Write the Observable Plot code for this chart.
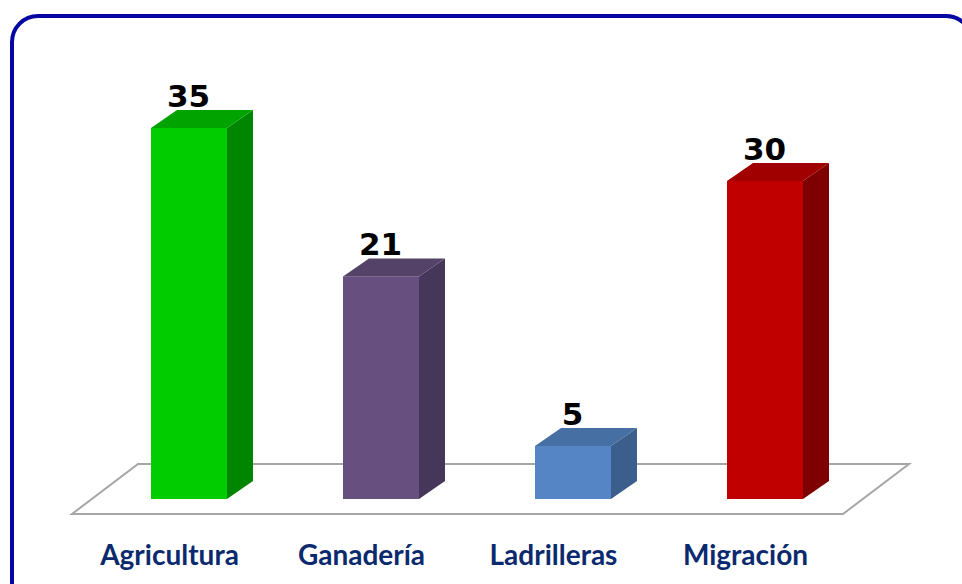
<!DOCTYPE html>
<html>
<head>
<meta charset="utf-8">
<script src="https://cdn.jsdelivr.net/npm/d3@7"></script>
<script src="https://cdn.jsdelivr.net/npm/@observablehq/plot@0.6"></script>
<style>
  html, body { margin: 0; padding: 0; background: #fff; }
  #wrap { position: relative; width: 962px; height: 584px; overflow: hidden; background: #fff; }
  #frame { position: absolute; left: 10px; top: 14px; width: 956px; height: 620px;
           border: 4px solid #0606a2; border-radius: 28px; box-sizing: content-box; }
  #chart { position: absolute; left: 0; top: 0; }
</style>
</head>
<body>
<div id="wrap"><div id="frame"></div><div id="chart"></div></div>
<script>
const categories = ["Agricultura", "Ganadería", "Ladrilleras", "Migración"];
const values = [35, 21, 5, 30];
const frontColors = ["#00cc00", "#67507f", "#5585c5", "#c00000"];
const sideColors = ["#008500", "#45365a", "#3b5e8c", "#7e0000"];
const topColors = ["#00a300", "#554269", "#466fa3", "#a00000"];

const data = categories.map((c, i) => ({category: c, value: values[i], front: frontColors[i]}));

const DX = 26, DY = 18;

function floor(index, {x, y}) {
  const [r0, r1] = x.range();
  const y0 = y(0);
  const fy = y0 + 15, by = y0 - 35;
  const g = d3.create("svg:g");
  g.append("path")
    .attr("d", `M${r0 + 39},${fy}L${r1 - 78},${fy}L${r1 - 12},${by}L${r0 + 105},${by}Z`)
    .attr("fill", "#fff").attr("stroke", "#a6a6a6").attr("stroke-width", 2);
  return g.node();
}

function cubes(index, {x, y}) {
  const g = d3.create("svg:g");
  const bw = x.bandwidth ? x.bandwidth() : 76;
  const y0 = y(0);
  data.forEach((d, i) => {
    const x0 = x(d.category), x1 = x0 + bw, yt = y(d.value);
    g.append("path")
      .attr("d", `M${x1},${yt}L${x1 + DX},${yt - DY}L${x1 + DX},${y0 - DY}L${x1},${y0}Z`)
      .attr("fill", sideColors[i]);
    g.append("path")
      .attr("d", `M${x0},${yt}L${x0 + DX},${yt - DY}L${x1 + DX},${yt - DY}L${x1},${yt}Z`)
      .attr("fill", topColors[i]);
  });
  return g.node();
}

const chart = Plot.plot({
  width: 962,
  height: 584,
  marginLeft: 33,
  marginRight: 41,
  marginTop: 128,
  marginBottom: 85,
  style: {background: "transparent", overflow: "visible"},
  x: {domain: categories, padding: 0.606, axis: null},
  y: {domain: [0, 35], axis: null},
  marks: [
    floor,
    Plot.barY(data, {x: "category", y: "value", fill: "front"}),
    cubes,
    Plot.text(data, {x: "category", y: "value", text: d => String(d.value), dy: -22, dx: -1,
      lineAnchor: "bottom", fontSize: 31, fontWeight: "bold", fill: "#000",
      fontFamily: "DejaVu Sans"}),
    Plot.axisX({domain: categories, tickSize: 0, tickPadding: 46, dx: -20, fontSize: 28,
      fontWeight: "bold", fill: "#0b2a6e", fontFamily: "Lato", label: null})
  ]
});
document.getElementById("chart").appendChild(chart);
</script>
</body>
</html>
